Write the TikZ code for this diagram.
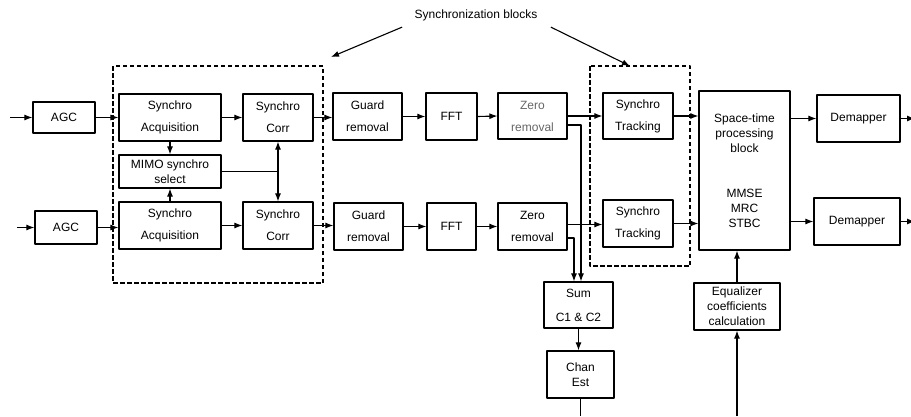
\documentclass[tikz,border=0pt]{standalone}
\usepackage{fontspec}
\setmainfont{Liberation Sans}
\usetikzlibrary{arrows.meta}
\begin{document}
\begin{tikzpicture}[x=1pt, y=-1pt, font=\fontsize{12}{15}\selectfont, line join=round, >={Latex[length=8pt,width=6pt]},
	blk/.style={draw, line width=1.2pt, align=center, inner sep=0pt},
	syncbox/.style={draw, dash pattern=on 4.5pt off 2.5pt, line width=1.1pt},
	link/.style={->, line width=1.1pt}]
	\useasboundingbox (0,0) rectangle (911,416);
	% dashed synchronization blocks
	\draw[syncbox] (113,66) rectangle (323,283);
	\draw[syncbox] (590,66) rectangle (690,266);
	\node (title) at (476,15) {Synchronization blocks};
	\coordinate (tipL) at (331,57);
	\coordinate (tipR) at (630,66);
	\draw[link] ([xshift=-9pt,yshift=-3pt]title.south west) -- (tipL);
	\draw[link] ([xshift=10pt,yshift=-3pt]title.south east) -- (tipR);
	
	% first branch
	\node[blk, minimum width=62, minimum height=31] (agcA) at (64,117.5) {AGC};
	\node[blk, minimum width=102, minimum height=47] (acqA) at (170,117.5) {Synchro\\[7pt]Acquisition};
	\node[blk, minimum width=70, minimum height=47] (corrA) at (278,117.5) {Synchro\\[7pt]Corr};
	\node[blk, minimum width=69, minimum height=47] (guardA) at (367.5,116.5) {Guard\\[7pt]removal};
	\node[blk, minimum width=51, minimum height=47] (fftA) at (451.5,116.5) {FFT};
	\node[blk, minimum width=69, minimum height=46, text=black!60] (zeroA) at (532.5,116) {Zero\\[7pt]removal};
	\node[blk, minimum width=70, minimum height=46] (trackA) at (638,116) {Synchro\\[7pt]Tracking};
	\node[blk, minimum width=83, minimum height=47] (demA) at (858.5,118.5) {Demapper};
	
	\node[blk, minimum width=102, minimum height=33] (mimo) at (170,171.5) {MIMO synchro\\select};
	
	% second branch
	\node[blk, minimum width=62, minimum height=33] (agcB) at (66,227.5) {AGC};
	\node[blk, minimum width=102, minimum height=47] (acqB) at (170,225.5) {Synchro\\[7pt]Acquisition};
	\node[blk, minimum width=70, minimum height=47] (corrB) at (278,225.5) {Synchro\\[7pt]Corr};
	\node[blk, minimum width=69, minimum height=47] (guardB) at (368.5,226.5) {Guard\\[7pt]removal};
	\node[blk, minimum width=49, minimum height=47] (fftB) at (451.5,226.5) {FFT};
	\node[blk, minimum width=69, minimum height=47] (zeroB) at (532.5,226.5) {Zero\\[7pt]removal};
	\node[blk, minimum width=70, minimum height=47] (trackB) at (638,223.5) {Synchro\\[7pt]Tracking};
	\node[blk, minimum width=86, minimum height=47] (demB) at (857,221.5) {Demapper};
	
	\node[blk, minimum width=91, minimum height=159] (st) at (744.5,170.5) {Space-time\\processing\\block\\[30pt]MMSE\\MRC\\STBC};
	\node[blk, minimum width=69, minimum height=46] (sum) at (578.5,305) {Sum\\[9pt]C1 \& C2};
	\node[blk, minimum width=67, minimum height=47] (chan) at (580.5,374.5) {Chan\\Est};
	\node[blk, minimum width=86, minimum height=47] (eq) at (737,306.5) {Equalizer\\coefficients\\calculation};
	
	\coordinate (inA) at (10,117.5);
	\coordinate (inB) at (17,227.5);
	\coordinate (outA) at (915,118.5);
	\coordinate (outB) at (915,221.5);
	\coordinate (chanEnd) at (580.5,416);
	\coordinate (eqIn) at (737,416);
	
	% connectors
	\draw[link] (inA) -- (agcA.west);
	\draw[link] (inB) -- (agcB.west);
	\draw[link] (agcA.east) -- (acqA.west);
	\draw[link] (agcB.east) -- (agcB.east -| acqB.west);
	\draw[link] (acqA.east) -- (corrA.west);
	\draw[link] (acqB.east) -- (corrB.west);
	\draw[link] (acqA.south) -- (mimo.north);
	\draw[link] (acqB.north) -- (mimo.south);
	\draw[link, <->] (corrA.south) -- (corrB.north);
	\draw[line width=1.1pt] (mimo.east) -- (mimo.east -| corrA.south);
	\draw[link] (corrA.east) -- (corrA.east -| guardA.west);
	\draw[link] (corrB.east) -- (corrB.east -| guardB.west);
	\draw[link] (guardA.east) -- (fftA.west);
	\draw[link] (guardB.east) -- (fftB.west);
	\draw[link] (fftA.east) -- (zeroA.west);
	\draw[link] (fftB.east) -- (zeroB.west);
	\draw[link] (zeroA.east) -- (zeroA.east -| trackA.west);
	\draw[link] ([yshift=2pt]zeroB.east) -- ([yshift=2pt]zeroB.east -| trackB.west);
	\draw[link] ([yshift=-9pt]zeroA.east) -| ([xshift=2.5pt]sum.north);
	\draw[link] ([yshift=-11.5pt]zeroB.east) -| ([xshift=-4.5pt]sum.north);
	\draw[link] (trackA.east) -- (trackA.east -| st.west);
	\draw[link] (trackB.east) -- (trackB.east -| st.west);
	\draw[link] (demA.west -| st.east) -- (demA.west);
	\draw[link] (demB.west -| st.east) -- (demB.west);
	\draw[link] (demA.east) -- (outA);
	\draw[link] (demB.east) -- (outB);
	\draw[link] (sum.south) -- (sum.south |- chan.north);
	\draw[line width=1.1pt] (chan.south) -- (chanEnd);
	\draw[link] (eq.north) -- (eq.north |- st.south);
	\draw[link] (eqIn) -- (eq.south);
\end{tikzpicture}
\end{document}
